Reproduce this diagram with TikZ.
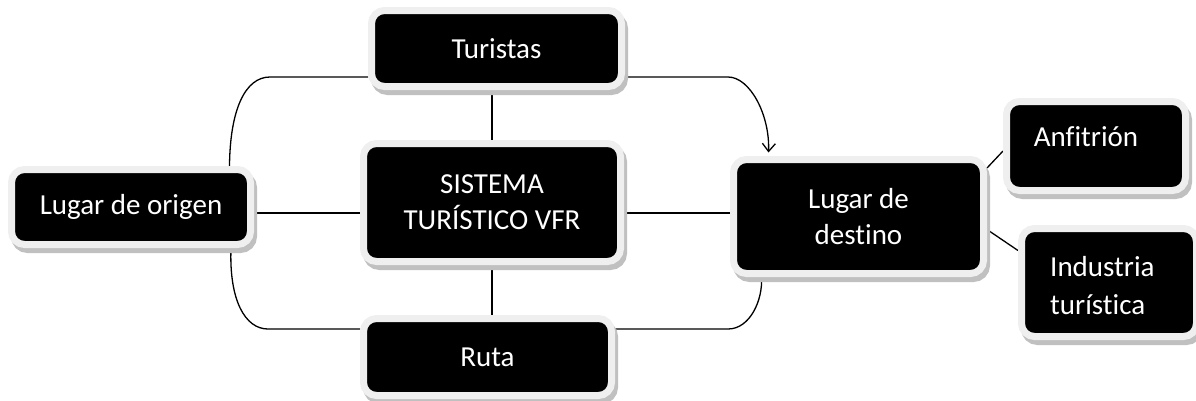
\documentclass[tikz,border=0pt]{standalone}
\usepackage{fontspec}
\setmainfont[Ligatures=NoCommon]{Carlito}
\usetikzlibrary{shadows,arrows.meta,calc}
\definecolor{boxborder}{HTML}{EFEFEF}
\definecolor{boxshadow}{HTML}{C0C0C0}
\pgfdeclarelayer{background}
\pgfsetlayers{background,main}
\begin{document}
\begin{tikzpicture}[x=1pt,y=-1pt,
  tbox/.style={fill=black, draw=boxborder, line width=7pt, rounded corners=13pt,
    text=white, font=\fontsize{29}{36}\selectfont, align=center, inner sep=0pt,
    drop shadow={shadow xshift=3pt, shadow yshift=-5pt, fill=boxshadow, draw=boxshadow, line width=7pt, opacity=1}},
  ttext/.style={text=white, font=\fontsize{29}{38}\selectfont, align=left, inner sep=0pt},
  conn/.style={line width=1.3pt, draw=black}]
\useasboundingbox (0,0) rectangle (1196,400);
\clip (0,0) rectangle (1196,400);

\node[tbox, minimum width=250pt, minimum height=76pt] (tur) at (496.5,48.5) {Turistas};
\node[tbox, minimum width=257pt, minimum height=118pt] (sis) at (492,202.5) {SISTEMA\\TURÍSTICO VFR};
\node[tbox, minimum width=248pt, minimum height=77pt] (rut) at (487.5,357) {Ruta};
\node[tbox, minimum width=239pt, minimum height=75pt] (org) at (131,207) {Lugar de origen};
\node[tbox, minimum width=250pt, minimum height=114pt] (des) at (858.5,216.5) {Lugar de\\destino};
\node[tbox, minimum width=179pt, minimum height=89pt] (anf) at (1096,146) {};
\node[ttext] (anft) at (1086,137) {Anfitrión};
\node[tbox, minimum width=175pt, minimum height=108pt] (ind) at (1109,282.5) {};
\node[ttext, anchor=west] (indt) at (1050,286) {Industria\\turística};

\begin{pgfonlayer}{background}
\coordinate (midline) at (0,213);
\coordinate (topy) at (0,77);
\coordinate (boty) at (0,329);
\draw[conn] (org.east |- midline) -- (sis.west |- midline);
\draw[conn] (sis.east |- midline) -- (des.west |- midline);
\draw[conn] (sis.north) -- (sis.north |- tur.south);
\draw[conn] (sis.south) -- (sis.south |- rut.north);
\draw[conn] (tur.west |- topy) -- (270,77) .. controls (245,77) and (230,110) .. ([xshift=-24.5pt]org.north east);
\draw[conn] (rut.west |- boty) -- (268,329) .. controls (245,329) and (229,300) .. ([xshift=-23pt]org.south east);
\draw[conn, -{Straight Barb[length=8pt,width=13pt,line width=1.3pt]}] (tur.east |- topy) -- (728,77) .. controls (750,77) and (770,115) .. ([xshift=38.5pt,yshift=3.5pt]des.north west);
\draw[conn] (rut.east |- boty) -- (728,329) .. controls (750,329) and (763,300) .. ([xshift=31.5pt]des.south west);
\draw[conn] ([yshift=48.5pt]des.east) -- ([yshift=-5pt]anf.west);
\draw[conn] ([yshift=-13pt]des.east) -- ([yshift=32pt]ind.west);
\end{pgfonlayer}
\end{tikzpicture}
\end{document}
